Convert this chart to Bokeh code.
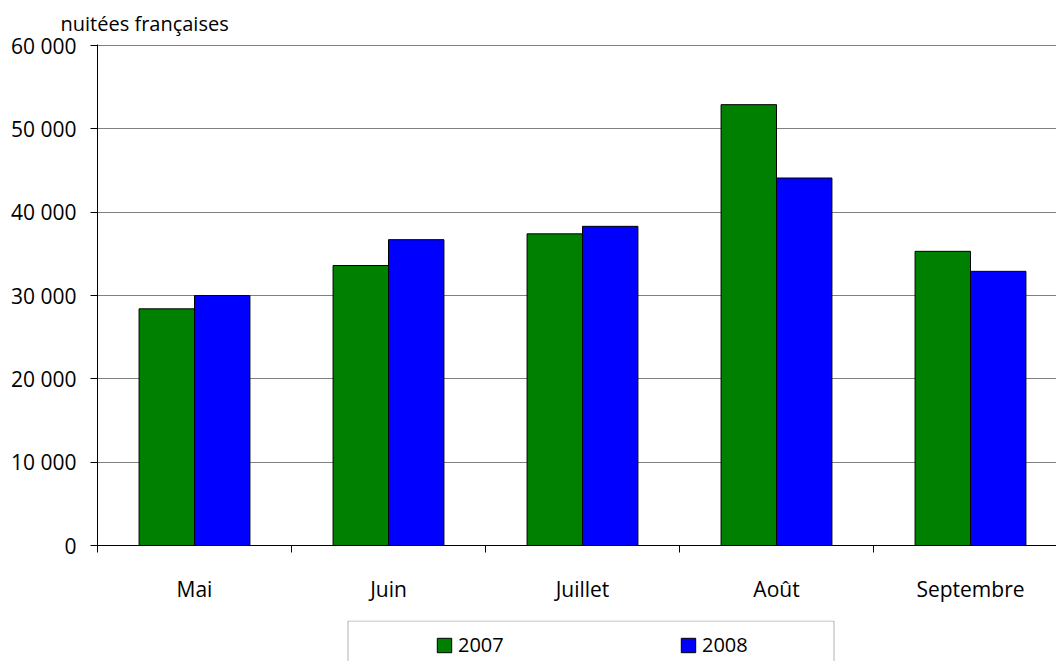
import numpy as np
from bokeh.plotting import figure
from bokeh.layouts import column
from bokeh.models import (ColumnDataSource, Range1d, FixedTicker, Legend, LegendItem,
                          BoxAnnotation)
from bokeh.transform import dodge
from bokeh.embed import file_html
from bokeh.resources import INLINE

# ---- data ----
months = ["Mai", "Juin", "Juillet", "Août", "Septembre"]
v2007 = [28400, 33600, 37400, 52900, 35300]
v2008 = [30000, 36700, 38300, 44100, 32900]
y_ticks = [0, 10000, 20000, 30000, 40000, 50000, 60000]
y_tick_labels = ["0", "10 000", "20 000", "30 000", "40 000", "50 000", "60 000"]
series_names = ["2007", "2008"]
series_colors = ["#008000", "#0000FF"]

FONT = "Open Sans"
centers = np.arange(len(months)) + 0.5
bar_w = 1.0 / 3.5

src = ColumnDataSource(dict(x=centers, m=months, a=v2007, b=v2008))

p = figure(width=1056, height=620, output_backend="svg", toolbar_location=None,
           x_range=Range1d(0, 959 / 194), y_range=Range1d(0, 60000 * 501 / 500),
           min_border_left=97, min_border_right=0, min_border_top=44,
           min_border_bottom=75)
p.outline_line_color = None
p.background_fill_color = "white"
p.border_fill_color = "white"

r1 = p.vbar(x=dodge("x", -bar_w / 2, range=p.x_range), top="a", width=bar_w,
            source=src, fill_color=series_colors[0], line_color="black", line_width=1)
r2 = p.vbar(x=dodge("x", bar_w / 2, range=p.x_range), top="b", width=bar_w,
            source=src, fill_color=series_colors[1], line_color="black", line_width=1)

# x axis
xa = p.xaxis[0]
xa.ticker = FixedTicker(ticks=list(centers), minor_ticks=list(range(len(months) + 1)))
xa.major_label_overrides = {float(c): m for c, m in zip(centers, months)}
xa.major_tick_out = 0
xa.major_tick_in = 0
xa.minor_tick_out = 7
xa.minor_tick_in = 0
xa.minor_tick_line_color = "black"
xa.axis_line_color = "black"
xa.major_label_standoff = 22
xa.major_label_text_font = FONT
xa.major_label_text_font_size = "21px"
xa.major_label_text_color = "black"
p.xgrid.grid_line_color = None

# y axis
ya = p.yaxis[0]
ya.ticker = FixedTicker(ticks=y_ticks)
ya.major_label_overrides = {t: l for t, l in zip(y_ticks, y_tick_labels)}
ya.major_tick_out = 7
ya.major_tick_in = 0
ya.minor_tick_line_color = None
ya.axis_line_color = "black"
ya.major_tick_line_color = "black"
ya.major_label_standoff = 14
ya.major_label_text_font = FONT
ya.major_label_text_font_size = "21px"
ya.major_label_text_color = "black"
p.ygrid.ticker = FixedTicker(ticks=y_ticks)
p.ygrid.grid_line_color = "#808080"

# title
p.title.text = "nuitées françaises"
p.title.text_font = FONT
p.title.text_font_size = "20px"
p.title.text_font_style = "normal"
p.title.text_color = "black"
p.title.align = "left"
p.title.offset = -37
p.title.standoff = 15

# ---- legend strip: same horizontal borders as the chart, ranges in pixels ----
p2 = figure(width=1056, height=41, output_backend="svg", toolbar_location=None,
            x_range=Range1d(97, 1056), y_range=Range1d(-41, 0),
            x_axis_location=None, y_axis_location=None,
            min_border_left=97, min_border_right=0, min_border_top=0,
            min_border_bottom=0)
p2.outline_line_color = None
p2.grid.grid_line_color = None
p2.background_fill_color = "white"
p2.border_fill_color = "white"

box = BoxAnnotation(left=347.5, right=833.5, top=-0.5, bottom=-80,
                    fill_alpha=0, line_color="black", line_width=1)
p2.add_layout(box)

# legend swatch renderers (their bars lie entirely outside this strip's ranges)
g1 = p2.vbar(x=dodge("x", 100000, range=p2.x_range), top="a", width=0.01, source=src,
             fill_color=series_colors[0], line_color="black")
g2 = p2.vbar(x=dodge("x", 100000, range=p2.x_range), top="b", width=0.01, source=src,
             fill_color=series_colors[1], line_color="black")

legend = Legend(items=[LegendItem(label=series_names[0], renderers=[g1]),
                       LegendItem(label=series_names[1], renderers=[g2])],
                orientation="horizontal", location=(338, 3),
                glyph_width=18, glyph_height=18, label_standoff=5,
                label_width=60, spacing=161, padding=0, margin=0,
                label_text_font=FONT, label_text_font_size="20px",
                label_text_color="black",
                border_line_alpha=0, background_fill_alpha=0)
p2.add_layout(legend, "center")

layout = column(p, p2, spacing=0)
open("out.html", "w").write(file_html(layout, INLINE))
